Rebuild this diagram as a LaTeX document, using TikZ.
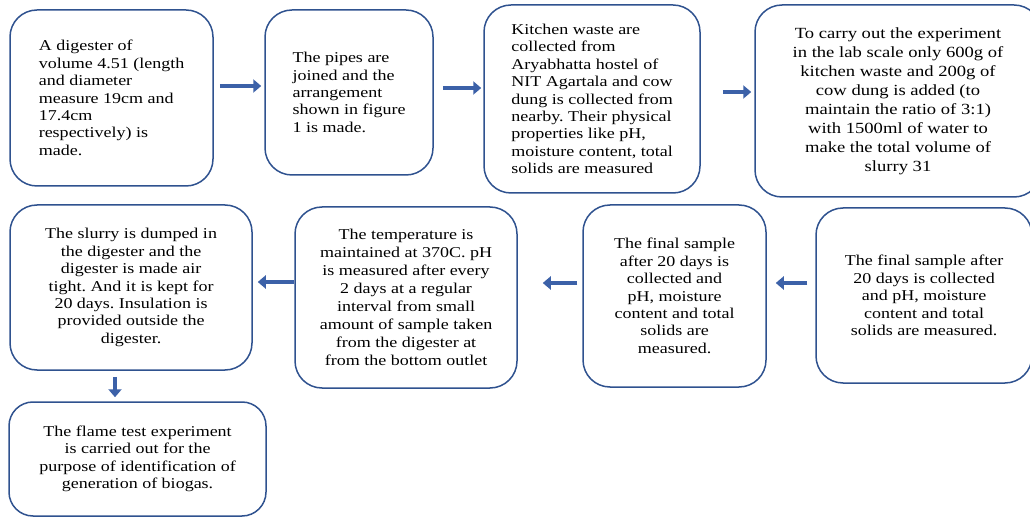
\documentclass[tikz,border=0pt]{standalone}
\usepackage{fontspec}
\setmainfont{Liberation Serif}[FakeStretch=1.2]
\usetikzlibrary{arrows.meta}
\definecolor{boxblue}{RGB}{47,82,143}
\definecolor{arrowblue}{RGB}{60,97,168}
\frenchspacing

\begin{document}
\begin{tikzpicture}[x=1pt,y=-1pt,
    stepbox/.style={draw=boxblue,line width=1.5pt,rounded corners=27pt,align=center,inner sep=0pt,
        font=\fontsize{15}{17.4}\selectfont},
    flow/.style={draw=arrowblue,line width=4pt,-{Triangle[length=8pt,width=13pt]}}]
    \useasboundingbox (0,0) rectangle (1030,518);

    \node[stepbox,align=left,minimum width=203pt,minimum height=176pt] (digester) at (111.5,98)
        {A digester of\\volume 4.51 (length\\and diameter\\measure 19cm and\\17.4cm\\respectively) is\\made.};
    \node[stepbox,align=left,minimum width=168pt,minimum height=165pt] (pipes) at (349,92.5)
        {The pipes are\\joined and the\\arrangement\\shown in figure\\1 is made.};
    \node[stepbox,align=left,minimum width=216pt,minimum height=188pt] (waste) at (592,99)
        {Kitchen waste are\\collected from\\Aryabhatta hostel of\\NIT Agartala and cow\\dung is collected from\\nearby. Their physical\\properties like pH,\\moisture content, total\\solids are measured};
    \node[stepbox,minimum width=286pt,minimum height=192pt,font=\fontsize{15.5}{19}\selectfont] (mix) at (898,101)
        {To carry out the experiment\\in the lab scale only 600g of\\kitchen waste and 200g of\\cow dung is added (to\\maintain the ratio of 3:1)\\with 1500ml of water to\\make the total volume of\\slurry 31};

    \node[stepbox,minimum width=242pt,minimum height=165pt] (slurry) at (131,287.5)
        {The slurry is dumped in\\the digester and the\\digester is made air\\tight. And it is kept for\\20 days. Insulation is\\provided outside the\\digester.};
    \node[stepbox,minimum width=222pt,minimum height=181pt,font=\fontsize{15}{17.9}\selectfont] (temp) at (406,297.5)
        {The temperature is\\maintained at 370C. pH\\is measured after every\\2 days at a regular\\interval from small\\amount of sample taken\\from the digester at\\from the bottom outlet};
    \node[stepbox,minimum width=183pt,minimum height=182pt] (final) at (674.5,296)
        {The final sample\\after 20 days is\\collected and\\pH, moisture\\content and total\\solids are\\measured.};
    \node[stepbox,minimum width=216pt,minimum height=175pt] (finaltwo) at (924,295.5)
        {The final sample after\\20 days is collected\\and pH, moisture\\content and total\\solids are measured.};

    \node[stepbox,minimum width=257pt,minimum height=114pt,rounded corners=24pt] (flame) at (137.5,459)
        {The flame test experiment\\is carried out for the\\purpose of identification of\\generation of biogas.};

    \foreach \a/\b/\dy/\s/\e in {digester/pipes/12/6/3, pipes/waste/4.5/9/2, waste/mix/7/22/3}
    {
    \path ([yshift=\dy pt]\a.east) coordinate (p);
    \draw[flow,shorten <=\s pt,shorten >=\e pt] (p) -- (p -| \b.west);
    }
    \foreach \a/\b/\dy/\s/\e in {finaltwo/final/12.5/8/9, final/temp/13/5/25, temp/slurry/15.5/0/5}
    {
    \path ([yshift=\dy pt]\a.west) coordinate (p);
    \draw[flow,shorten <=\s pt,shorten >=\e pt] (p) -- (p -| \b.east);
    }
    \path ([xshift=-16pt]slurry.south) coordinate (q);
    \draw[flow,shorten <=6pt,shorten >=4pt] (q) -- (q |- flame.north);
\end{tikzpicture}
\end{document}
